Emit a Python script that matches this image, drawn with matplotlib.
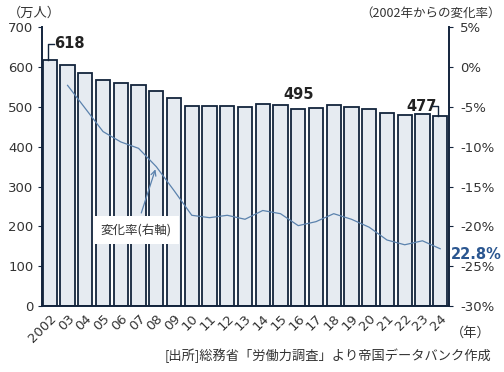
import matplotlib
matplotlib.use('Agg')
import matplotlib.pyplot as plt
import numpy as np

# DejaVu for the digits (wide, Meiryo-like), CJK font for the Japanese text
plt.rcParams['font.family'] = ['DejaVu Sans', 'Noto Sans CJK JP']

# data
years = ['2002', '03', '04', '05', '06', '07', '08', '09', '10', '11', '12',
         '13', '14', '15', '16', '17', '18', '19', '20', '21', '22', '23', '24']
workers = [618, 604, 586, 568, 560, 555, 541, 522, 503, 501, 503, 500,
           507, 504, 495, 498, 504, 500, 494, 484, 480, 483, 477]
# change vs 2002 (%), from 2003 on
rate = [-2.3, -5.2, -8.1, -9.4, -10.2, -12.5, -15.5, -18.6, -18.9, -18.6, -19.1,
        -18.0, -18.4, -19.9, -19.4, -18.4, -19.1, -20.1, -21.7, -22.3, -21.8, -22.8]

navy = '#13243c'
line_c = '#5b82ad'
txt = '#333333'
jp = ['Noto Sans CJK JP', 'DejaVu Sans']

fig = plt.figure(figsize=(5.04, 3.72), dpi=100)
ax = fig.add_axes([0.083, 0.177, 0.808, 0.75])
x = np.arange(len(years))
ax.bar(x, workers, width=0.8, color='#e6ebf1', edgecolor=navy, linewidth=1.3, zorder=2)
ax.set_xlim(-0.45, len(years) - 0.5)
ax.set_ylim(0, 700)
ax.set_yticks(range(0, 701, 100))
ax.set_xticks(x)
ax.set_xticklabels(years, rotation=45, ha='right', rotation_mode='anchor', fontsize=9.5,
                   color=txt)
ax.tick_params(axis='x', length=0, pad=4)
ax.tick_params(axis='y', length=3, color=navy, labelsize=9.5, labelcolor=txt, pad=3)
for s in ['top', 'right']:
    ax.spines[s].set_visible(False)
ax.spines['left'].set_color(navy)
ax.spines['left'].set_linewidth(1.4)
ax.spines['bottom'].set_color(navy)
ax.spines['bottom'].set_linewidth(1.4)

ax2 = ax.twinx()
ax2.plot(x[1:], rate, color=line_c, linewidth=0.9, zorder=3)
ax2.set_ylim(-30, 5)
ax2.set_yticks(range(-30, 6, 5))
ax2.set_yticklabels([f'{v}%' for v in range(-30, 6, 5)])
ax2.tick_params(axis='y', length=3, color=navy, labelsize=9.5, labelcolor=txt, pad=5)
for s in ['top', 'left', 'bottom']:
    ax2.spines[s].set_visible(False)
ax2.spines['right'].set_color(navy)
ax2.spines['right'].set_linewidth(1.4)

# value labels with brackets
ax.plot([-0.12, -0.12, 0.22], [workers[0], workers[0] + 40, workers[0] + 40],
        color=navy, linewidth=1.0, zorder=4)
ax.text(0.25, workers[0] + 40, str(workers[0]), ha='left', va='center',
        fontsize=10.5, fontweight='bold', color='#222222')
ax.text(14, workers[14] + 35, str(workers[14]), ha='center', va='center',
        fontsize=10.5, fontweight='bold', color='#222222')
ax.plot([21.55, 21.85, 21.85], [workers[22] + 24, workers[22] + 24, workers[22]],
        color=navy, linewidth=1.0, zorder=4)
ax.text(21.8, workers[22] + 24, str(workers[22]), ha='right', va='center',
        fontsize=10.5, fontweight='bold', color='#222222')

ax2.annotate('22.8%', xy=(1.0, rate[-1]), xycoords=('axes fraction', 'data'),
             xytext=(1, -4), textcoords='offset points', ha='left', va='center',
             fontsize=10.5, fontweight='bold', color='#2a5690')

ax2.annotate('変化率(右軸)', xy=(6, rate[5]), xytext=(4.85, -20.4),
             ha='center', va='center', fontsize=9, color=txt, family=jp,
             bbox=dict(boxstyle='square,pad=0.6', fc='white', ec='none'),
             arrowprops=dict(arrowstyle='->', color=line_c, lw=0.9),
             zorder=5)

fig.text(0.016, 0.965, '（万人）', fontsize=9.5, color=txt, ha='left', va='center',
         family=jp)
fig.text(0.993, 0.965, '（2002年からの変化率）', fontsize=9, color=txt,
         ha='right', va='center', family=jp)
fig.text(0.895, 0.105, '（年）', fontsize=9.5, color=txt, ha='left', va='center',
         family=jp)
fig.text(0.975, 0.043, '[出所]総務省「労働力調査」より帝国データバンク作成', fontsize=9.5,
         color=txt, ha='right', va='center', family=jp)

fig.savefig('out.png', dpi=100, facecolor='white')
